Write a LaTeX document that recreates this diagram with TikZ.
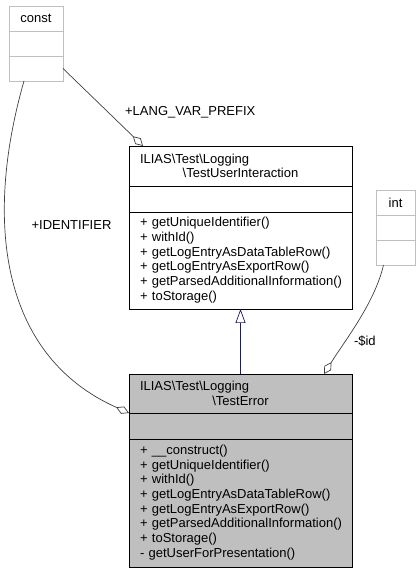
\documentclass[tikz,border=0pt]{standalone}
\usepackage{fontspec}
\setmainfont{Liberation Sans}
\usepackage{tikz}
\usepackage{xcolor}
\usetikzlibrary{arrows.meta,positioning}
\definecolor{edgegray}{RGB}{64,64,64}
\definecolor{framegray}{RGB}{191,191,191}
\definecolor{classfill}{RGB}{191,191,191}
\definecolor{inheritblue}{RGB}{25,25,112}

\begin{document}
\begin{tikzpicture}[x=1pt, y=1pt, font=\fontsize{13}{14.7}\selectfont,
            cls/.style={draw=black, line width=0.8pt, outer sep=0pt,
                minimum width=223pt, text width=201pt, inner xsep=11pt,
                inner ysep=0pt},
            ext/.style={draw=framegray, line width=0.8pt, outer sep=0pt,
                inner sep=0pt, minimum height=25pt},
            agg/.style={draw=edgegray, line width=0.7pt,
                -{Diamond[fill=white, length=14pt, width=8pt]}},
            inherit/.style={draw=inheritblue, line width=0.7pt,
                -{Triangle[open, length=14pt, width=10pt]}},
            lbl/.style={inner sep=0pt, anchor=west}]
            \useasboundingbox (0,0) rectangle (420,573);
            \node[ext, minimum width=54pt] (cT) at (36,554.5) {const};
            \node[ext, minimum width=54pt, below of=cT, node distance=25pt]
            (cA) {};
            \node[ext, minimum width=54pt, below of=cA, node distance=25pt]
            (cM) {};
            \node[ext, minimum width=39pt] (iT) at (395.5,370.5) {int};
            \node[ext, minimum width=39pt, below of=iT, node distance=25pt]
            (iA) {};
            \node[ext, minimum width=39pt, below of=iA, node distance=25pt]
            (iM) {};
            \node[cls, align=center, minimum height=40pt] (uT) at (240.5,407)
                {\makebox[\hsize][l]{ILIAS\textbackslash Test\textbackslash Logging}\\
                \textbackslash TestUserInteraction};
            \node[cls, minimum height=26pt, below of=uT, node distance=33pt]
            (uA) {};
            \node[cls, align=left, minimum height=97pt, below of=uA,
                node distance=61.5pt] (uM)
                {\begin{tabular}{@{}l@{}}
                + getUniqueIdentifier()\\
                + withId()\\
                + getLogEntryAsDataTableRow()\\
                + getLogEntryAsExportRow()\\
                + getParsedAdditionalInformation()\\
                + toStorage()
                \end{tabular}};
            \node[cls, fill=classfill, align=center, minimum height=39pt] (eT)
                at (240.5,179.5)
                {\makebox[\hsize][l]{ILIAS\textbackslash Test\textbackslash Logging}\\
                \textbackslash TestError};
            \node[cls, fill=classfill, minimum height=26pt, below of=eT,
                node distance=32.5pt] (eA) {};
            \node[cls, fill=classfill, align=left, minimum height=128pt,
                below of=eA, node distance=77pt] (eM)
                {\begin{tabular}{@{}l@{}}
                + \_\_construct()\\
                + getUniqueIdentifier()\\
                + withId()\\
                + getLogEntryAsDataTableRow()\\
                + getLogEntryAsExportRow()\\
                + getParsedAdditionalInformation()\\
                + toStorage()\\
                - getUserForPresentation()
                \end{tabular}};
            \draw[inherit] (eT) -- (uM);
            \draw[agg] (cM.east) -- node[lbl, pos=0.56, xshift=17pt]
                {+LANG\_VAR\_PREFIX} ([xshift=14pt]uT.north west);
            \draw[agg] ([xshift=15pt]cM.south west) to[out=254, in=156,
                looseness=1.05] node[lbl, pos=0.36, xshift=26pt]
                {+IDENTIFIER} (eT.south west);
            \draw[agg] ([xshift=-12pt]iM.south) to[out=257, in=58,
                looseness=0.8] node[lbl, pos=0.68, xshift=8pt]
                {-\$id} ([xshift=-28pt]eT.north east);
        \end{tikzpicture}
\end{document}
